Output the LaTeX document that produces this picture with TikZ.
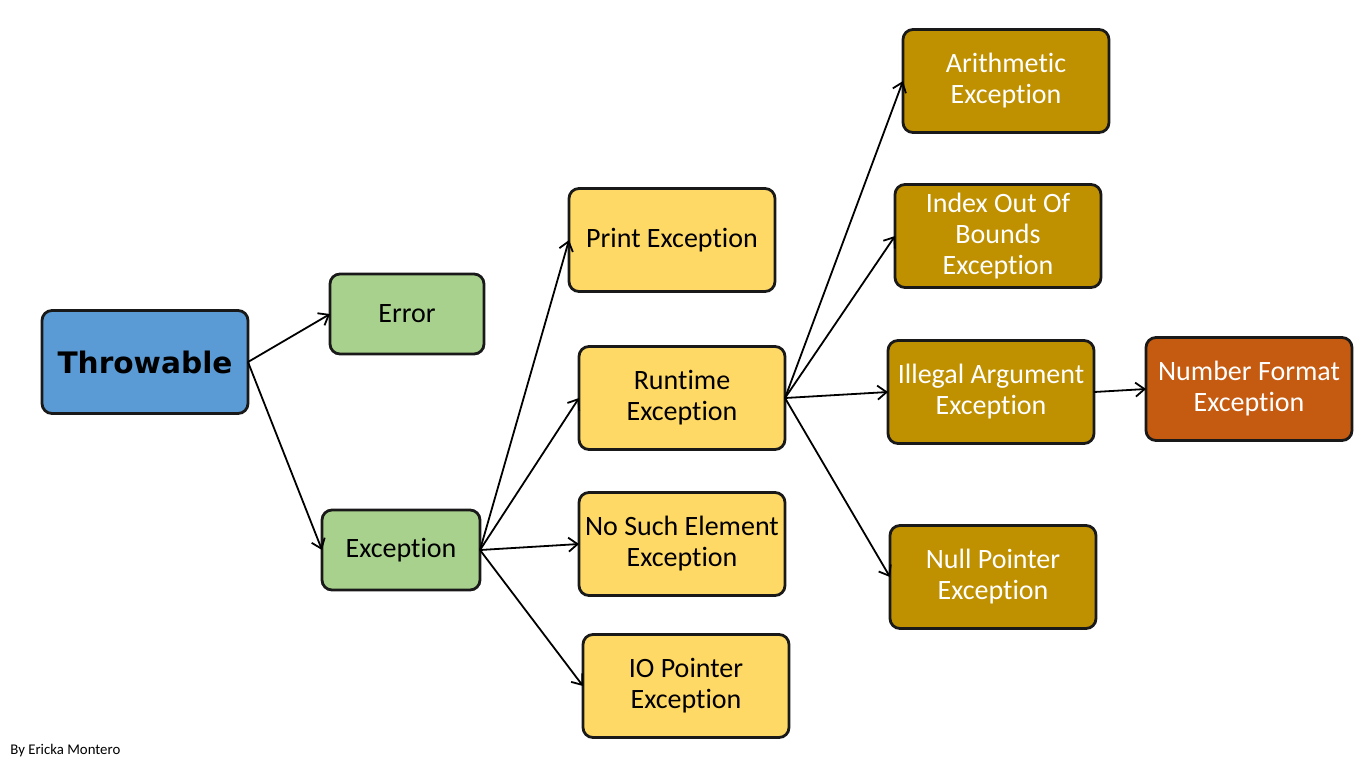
\documentclass[tikz,border=0pt]{standalone}
\usepackage{fontspec}
\setmainfont{Carlito}[Ligatures=NoCommon]
\newfontfamily\rootfont{DejaVu Sans}
\usetikzlibrary{positioning,arrows.meta}

\begin{document}
\begin{tikzpicture}
    [box/.style={rectangle,rounded corners=5pt,draw=black!90,line width=1.4pt,outer sep=0pt,
       minimum width=103pt,minimum height=51.5pt,align=center,inner sep=1pt,
       font=\fontsize{14}{15.5}\selectfont},
     root/.style={box,fill={rgb,255:red,91;green,155;blue,213},
       font=\rootfont\bfseries\fontsize{14.8}{18}\selectfont},
     err/.style={box,fill={rgb,255:red,169;green,209;blue,142},minimum width=77pt,minimum height=40pt},
     sub/.style={box,fill={rgb,255:red,255;green,217;blue,102}},
     rt/.style={box,fill={rgb,255:red,191;green,144;blue,0},text=white},
     nf/.style={box,fill={rgb,255:red,197;green,90;blue,17},text=white},
     link/.style={-{Straight Barb[length=4.5pt,width=7pt]},line width=0.9pt}]

    \useasboundingbox (0,0) rectangle (683pt,-384pt);

    \node[root] (throwable) at (72.5pt,-181pt) {Throwable};
    \node[err] (error) [right=41pt of throwable,yshift=24pt] {Error};
    \node[err,minimum width=79pt] (exception) [right=37pt of throwable,yshift=-94pt] {Exception};

    % children of Exception
    \node[sub] (print) [right=44.5pt of exception,yshift=155pt] {Print Exception};
    \node[sub] (runtime) [right=49.5pt of exception,yshift=76pt] {Runtime\\Exception};
    \node[sub] (nosuch) [right=49.5pt of exception,yshift=3pt] {No Such Element\\Exception};
    \node[sub] (io) [right=51.5pt of exception,yshift=-68pt] {IO Pointer\\Exception};

    % children of Runtime Exception
    \node[rt] (arith) [right=59pt of runtime,yshift=158.5pt] {Arithmetic\\Exception};
    \node[rt] (index) [right=55pt of runtime,yshift=81pt] {Index Out Of\\Bounds\\Exception};
    \node[rt] (illegal) [right=51.5pt of runtime,yshift=3pt] {Illegal Argument\\Exception};
    \node[rt] (null) [right=52.5pt of runtime,yshift=-89.5pt] {Null Pointer\\Exception};
    \node[nf] (number) [right=26pt of illegal,yshift=1.5pt] {Number Format\\Exception};

    \node[anchor=west,font=\fontsize{7.4}{9}\selectfont,inner sep=0pt] (by) at (5pt,-375.5pt) {By Ericka Montero};

    \draw[link] (throwable.east) -- (error.west);
    \draw[link] (throwable.east) -- (exception.west);
    \draw[link] (exception.east) -- (print.west);
    \draw[link] (exception.east) -- (runtime.west);
    \draw[link] (exception.east) -- (nosuch.west);
    \draw[link] (exception.east) -- (io.west);
    \draw[link] (runtime.east) -- (arith.west);
    \draw[link] (runtime.east) -- (index.west);
    \draw[link] (runtime.east) -- (illegal.west);
    \draw[link] (runtime.east) -- (null.west);
    \draw[link] (illegal.east) -- (number.west);
  \end{tikzpicture}
\end{document}
